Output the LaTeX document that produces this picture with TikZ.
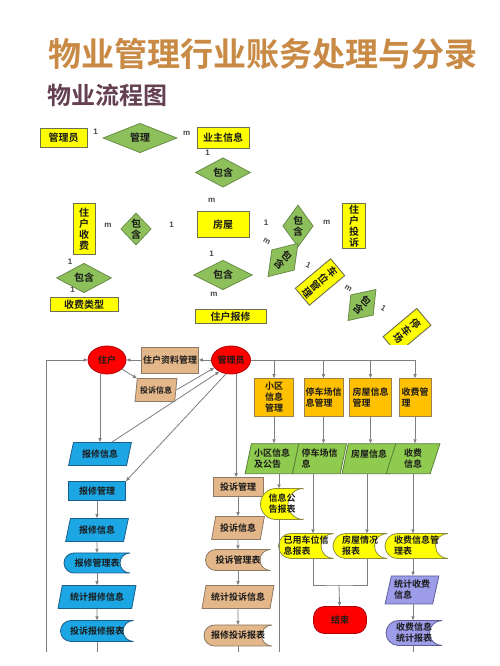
\documentclass[tikz,border=0pt]{standalone}
\usepackage{fontspec}
\setmainfont{Noto Sans CJK SC}[BoldFont={Noto Sans CJK SC Bold}]
\setsansfont{Liberation Sans}
\usetikzlibrary{shapes.geometric,arrows.meta,calc}

\definecolor{lnc}{HTML}{7F7F7F}
\definecolor{txc}{HTML}{1A1A1A}
\definecolor{ttlc}{HTML}{C98A45}
\definecolor{subc}{HTML}{644050}
\definecolor{ery}{HTML}{FFFF00}
\definecolor{erbd}{HTML}{6E6E50}
\definecolor{erg}{HTML}{8DC05A}
\definecolor{ergbd}{HTML}{6A8C48}
\definecolor{redbd}{HTML}{B00000}
\definecolor{tan}{HTML}{E3B78A}
\definecolor{tanbd}{HTML}{8C7A66}
\definecolor{blu}{HTML}{1CA6E4}
\definecolor{blubd}{HTML}{1A5F8A}
\definecolor{org}{HTML}{FFC000}
\definecolor{orgbd}{HTML}{9A8050}
\definecolor{grn}{HTML}{8FCB4F}
\definecolor{grnbd}{HTML}{5A7F3A}
\definecolor{yel}{HTML}{FFFF00}
\definecolor{yelbd}{HTML}{8C8C3C}
\definecolor{pur}{HTML}{9C9CE8}
\definecolor{purbd}{HTML}{5C5C99}

\newcommand{\ffont}{\fontsize{9}{11}\selectfont\bfseries}
\newcommand{\erfont}{\fontsize{10}{11}\selectfont\bfseries}

\pgfdeclarelayer{bg}
\pgfsetlayers{bg,main}

\tikzset{
  >={Triangle[length=4pt,width=3.2pt]},
  link/.style={draw=lnc, line width=0.8pt},
  erlink/.style={draw=lnc, line width=1.1pt},
  erbox/.style={rectangle, draw=erbd, fill=ery, line width=0.9pt, inner sep=1pt,
    align=center, text=txc, font=\erfont},
  rel/.style={diamond, draw=ergbd, fill=erg, line width=0.8pt, inner sep=0pt,
    align=center, text=txc, font=\erfont},
  card/.style={font=\sffamily\bfseries\fontsize{8}{8}\selectfont, text=txc!80, inner sep=0pt},
  actor/.style={ellipse, draw=redbd, fill=red, line width=0.8pt, inner sep=0pt,
    minimum width=38, minimum height=28, text=txc, font=\ffont},
  proc/.style={rectangle, line width=0.8pt, inner sep=1pt, align=center, text=txc, font=\ffont},
  tanbox/.style={proc, draw=tanbd, fill=tan},
  bluebox/.style={proc, draw=blubd, fill=blu},
  orbox/.style={proc, draw=orgbd, fill=org, minimum width=39, minimum height=38},
  io/.style={trapezium, trapezium left angle=72, trapezium right angle=108,
    trapezium stretches=true, line width=0.8pt, inner sep=1pt, align=left,
    text=txc, font=\ffont},
  tanio/.style={io, draw=tanbd, fill=tan},
  blueio/.style={io, draw=blubd, fill=blu},
  grio/.style={io, trapezium left angle=75, trapezium right angle=105,
    draw=grnbd, fill=grn, minimum width=54, minimum height=30},
  puio/.style={io, trapezium left angle=75, trapezium right angle=105, draw=purbd, fill=pur},
  store/.style={line width=0.8pt},
  stxt/.style={inner sep=0pt, align=left, text=txc, font=\ffont},
  endnode/.style={rectangle, rounded corners=11pt, draw=redbd, fill=red,
    line width=0.8pt, text=txc, font=\ffont}
}

% stored data shape: name, centre, width, height, colour, text
\newcommand{\stored}[6]{%
  \filldraw[store, fill=#5, draw=#5bd] ($#2+(-#3/2+#4/2,#4/2)$)
    arc[start angle=90, end angle=270, radius=#4/2]
    -- ++(#3-#4/2,0) arc[start angle=270, end angle=90, radius=#4/2] -- cycle;
  \node[stxt, minimum width=#3, minimum height=#4] (#1) at #2 {#6};
}

\begin{document}
\begin{tikzpicture}[x=1pt, y=1pt]
  \useasboundingbox (0,0) rectangle (500,666);
  \fill[white] (0,0) rectangle (500,666);

  % titles
  \node[inner sep=0pt, text=ttlc, font=\fontsize{33}{36}\selectfont\bfseries] (ttl) at (263,612) {物业管理行业账务处理与分录};
  \node[inner sep=0pt, text=subc, font=\fontsize{24}{26}\selectfont\bfseries] (sub) at (107,571) {物业流程图};

  % er diagram
  \node[erbox, minimum width=47, minimum height=19] (glr) at (63.5,528) {管理员};
  \node[rel, minimum width=74, minimum height=22] (gl) at (140,528) {管理};
  \node[erbox, minimum width=52, minimum height=21] (yz) at (223,528) {业主信息};
  \node[rel, minimum width=55, minimum height=22] (bh1) at (223,493.5) {包含};
  \node[erbox, minimum width=52, minimum height=26] (fw) at (223,441.5) {房屋};
  \node[rel, minimum width=59, minimum height=22] (bh4) at (223,391) {包含};
  \node[erbox, minimum width=71, minimum height=14] (bx) at (230.5,349.7) {住户报修};
  \node[erbox, minimum width=22, minimum height=51] (sf) at (84,437) {住\\户\\收\\费};
  \node[rel, minimum width=28, minimum height=32] (bh2) at (136,437) {包\\含};
  \node[rel, minimum width=55, minimum height=17] (bh5) at (84,388) {包含};
  \node[erbox, minimum width=68, minimum height=14] (lx) at (84,361.3) {收费类型};
  \node[rel, minimum width=30, minimum height=42] (bh3) at (298,440) {包\\含};
  \node[erbox, minimum width=23, minimum height=43] (ts) at (354,440) {住\\户\\投\\诉};
  \node[rel, rotate=-42, minimum width=28, minimum height=45] (bh6) at (283,406) {包\\含};
  \node[erbox, rotate=-50, minimum width=22, minimum height=46] (cw) at (320,384) {车\\位\\管\\理};
  \node[rel, rotate=-42, minimum width=26, minimum height=42] (bh7) at (362,361) {包\\含};
  \begin{scope}
    \clip (0,321) rectangle (500,666);
    \node[erbox, rotate=-50, minimum width=22, minimum height=44] (tc) at (407,335) {停\\车\\场};
  \end{scope}
  \begin{pgfonlayer}{bg}
    \draw[erlink] (glr) -- (gl) -- (yz);
    \draw[erlink] (yz) -- (bh1) -- (fw) -- (bh4);
    \draw[erlink] (bh4) -- (bh4 |- bx.north);
    \draw[erlink] (sf) -- (bh2) -- (bh2 -| fw.west);
    \draw[erlink] (sf) -- (bh5) -- (lx);
    \draw[erlink] (fw.east |- bh3) -- (bh3) -- (ts);
    \draw[erlink] (fw) -- (bh6) -- (cw) -- (bh7) -- (tc);
  \end{pgfonlayer}
  \foreach \x/\y/\t [count=\i] in {95.7/534.3/1, 186.7/532.7/m, 207.7/513/1, 211.7/466/m,
      108/441/m, 171.7/441/1, 70/404.3/1, 72.7/376/1, 211.7/412.7/1, 214/372/m,
      266/443.7/1, 326.7/443.3/m}
    \node[card] (k\i) at (\x,\y) {\t};
  \foreach \x/\y/\t [count=\i] in {266.7/424.3/m, 308.3/401/1, 348.3/377.7/m, 383.3/357.7/1}
    \node[card, rotate=-30] (r\i) at (\x,\y) {\t};

  % flow chart
  \node[actor] (zh) at (107,306) {住户};
  \node[tanbox, minimum width=57, minimum height=26] (zl) at (170,306) {住户资料管理};
  \node[actor, minimum width=39] (gly) at (231,306) {管理员};
  \node[tanio, trapezium left angle=78, trapezium right angle=102, minimum width=42,
    minimum height=23, font=\fontsize{8}{10}\selectfont\bfseries] (ts1) at (156,276) {投诉信息};
  \node[blueio, minimum width=63, minimum height=23] (bx1) at (100,212) {报修信息};

  % repair column
  \node[bluebox, minimum width=57, minimum height=19] (bxgl) at (97,175) {报修管理};
  \node[blueio, minimum width=63, minimum height=23] (bx2) at (97,136) {报修信息};
  \stored{bxb}{(97,103)}{66}{20}{blu}{报修管理表}
  \node[blueio, minimum width=78, minimum height=23] (tjbx) at (97,69) {统计报修信息};
  \stored{tsbxb}{(97,35)}{73}{21}{blu}{投诉报修报表}

  % complaint column
  \node[tanbox, minimum width=50, minimum height=19] (tsgl) at (238,179) {投诉管理};
  \node[tanio, minimum width=53, minimum height=23] (ts2) at (238,138) {投诉信息};
  \stored{tsb}{(238,106)}{65}{21}{tan}{投诉管理表}
  \node[tanio, minimum width=72, minimum height=23] (tjts) at (238,69) {统计投诉信息};
  \stored{bxtsb}{(238,30.5)}{68}{21}{tan}{报修投诉报表}

  % information columns
  \node[orbox] (xq) at (274,268.5) {小区\\信息\\管理};
  \node[orbox, align=left] (tcx) at (323.5,268.5) {停车场信\\息管理};
  \node[orbox, minimum width=42, align=left] (fwx) at (370.5,268.5) {房屋信息\\管理};
  \node[orbox, minimum width=32, align=left] (sfgl) at (415,268.5) {收费管\\理};
  \node[grio] (xqgg) at (272,207.3) {小区信息\\及公告};
  \node[grio] (tcxx) at (319.5,207.3) {停车场信\\息};
  \node[grio] (fwxx) at (369,207.3) {房屋信息\\\mbox{}};
  \node[grio] (sfxx) at (413,207.3) {收费\\信息};
  \stored{ggb}{(282,162)}{43}{31}{yel}{信息公\\告报表}
  \stored{ycw}{(306,120)}{55}{25}{yel}{已用车位信\\息报表}
  \stored{fwqk}{(360,120)}{54}{25}{yel}{房屋情况\\报表}
  \stored{sfb}{(416.5,120)}{63}{25}{yel}{收费信息管\\理表}
  \node[endnode, minimum width=53, minimum height=27] (js) at (340,46) {结束};
  \node[puio, minimum width=54, minimum height=28] (tjsf) at (412,76) {统计收费\\信息};
  \stored{sftjb}{(414,33)}{56}{25}{pur}{收费信息\\统计报表}

  \coordinate (lb) at (46,14);
  \coordinate (c1) at (279,0);
  \coordinate (c2) at (313,0);
  \coordinate (c3) at (367,0);
  \coordinate (c4) at (413,0);
  \coordinate (jn) at (339,81);

  % connectors
  \draw[link,->] (gly) -- (zl);
  \draw[link,->] (zl) -- (zh);
  \draw[link,->] (lb) |- (zh);
  \draw[link,->] (zh) -- (ts1);
  \draw[link,->] (zh.south -| bx1.north) -- (bx1.north);
  \draw[link,->] (ts1.east) -- (gly.205);
  \draw[link,->] (bx1.north east) -- (gly.225);
  \draw[link,->] (gly.250) -- (bxgl.north east);
  \foreach \a/\b in {bxgl/bx2, bx2/bxb, bxb/tjbx, tjbx/tsbxb}
    \draw[link,->] (\a) -- (\b);
  \draw[link] (tsbxb) -- (tsbxb |- lb);
  \draw[link,->] (gly.290) -- (gly.290 |- tsgl.north);
  \foreach \a/\b in {tsgl/ts2, ts2/tsb, tsb/tjts, tjts/bxtsb}
    \draw[link,->] (\a) -- (\b);
  \draw[link] (bxtsb) -- (bxtsb |- lb);
  \draw[link] (gly) -- (gly -| sfgl);
  \foreach \n in {xq, tcx, fwx, sfgl}
    \draw[link,->] (gly.east -| \n.north) -- (\n.north);
  \foreach \a/\b in {xq/xqgg, tcx/tcxx, fwx/fwxx, sfgl/sfxx}
    \draw[link,->] (\a) -- (\a |- \b.north);
  \draw[link,->] (xqgg.south -| c1) -- (ggb.north -| c1);
  \draw[link] (ggb.south -| c1) -- (c1 |- lb);
  \draw[link,->] (tcxx.south -| c2) -- (ycw.north -| c2);
  \draw[link,->] (fwxx.south -| c3) -- (fwqk.north -| c3);
  \draw[link,->] (sfxx.south -| c4) -- (sfb.north -| c4);
  \draw[link] (ycw.south -| c2) |- (jn) -| (fwqk.south -| c3);
  \draw[link,->] (jn) -- (js);
  \draw[link,->] (sfb.south -| c4) -- (tjsf.north -| c4);
  \draw[link,->] (tjsf.south -| c4) -- (sftjb.north -| c4);
  \draw[link] (sftjb.south -| c4) -- (c4 |- lb);
\end{tikzpicture}
\end{document}
